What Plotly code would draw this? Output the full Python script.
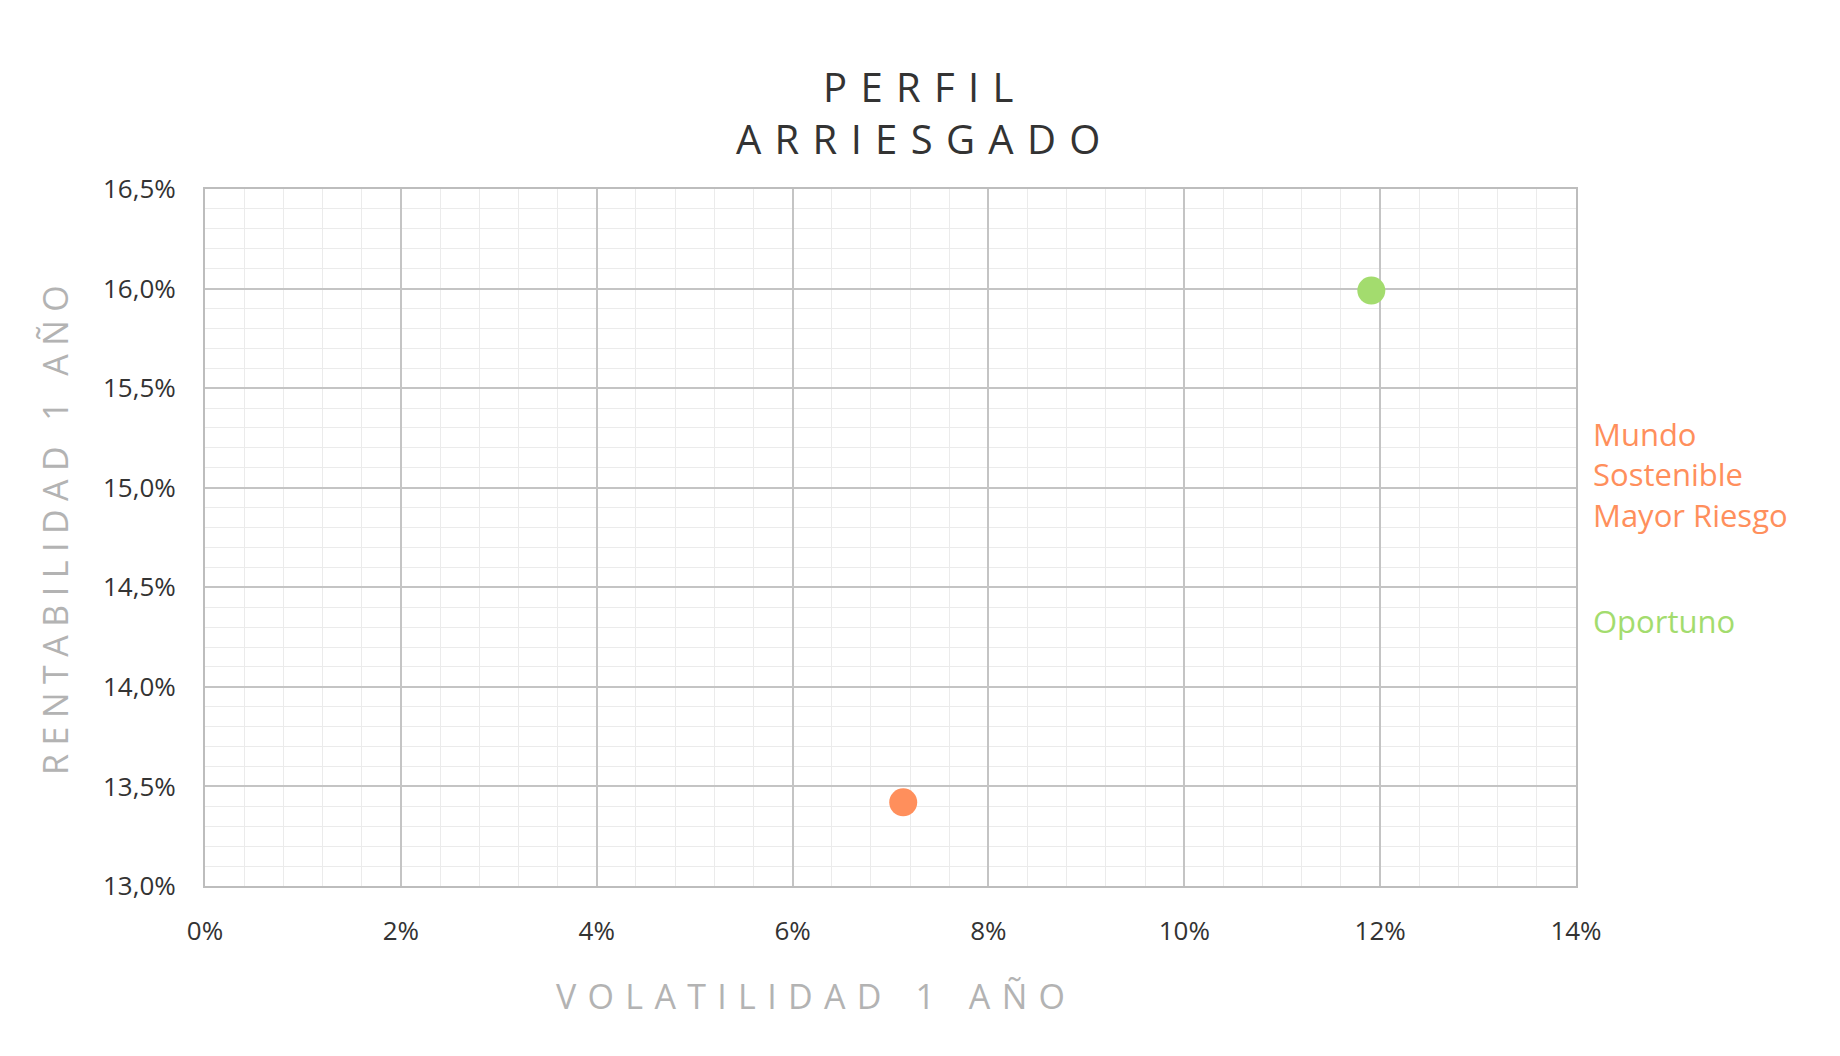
import plotly.graph_objects as go

series_names = ["Mundo Sostenible Mayor Riesgo", "Oportuno"]
series_labels = ["Mundo<br>Sostenible<br>Mayor Riesgo", "Oportuno"]
volatilidad = [7.13, 11.91]
rentabilidad = [13.42, 15.99]
colors = ["#FF8F5C", "#A3DC6E"]
x_ticks = [0, 2, 4, 6, 8, 10, 12, 14]
x_ticktext = ["0%", "2%", "4%", "6%", "8%", "10%", "12%", "14%"]
y_ticks = [13.0, 13.5, 14.0, 14.5, 15.0, 15.5, 16.0, 16.5]
y_ticktext = ["13,0%", "13,5%", "14,0%", "14,5%", "15,0%", "15,5%", "16,0%", "16,5%"]

FONT = "Open Sans"
W, H = 1840, 1056
L, R, T, B = 205, 264, 189, 170
pw, ph = W - L - R, H - T - B


def spaced(s, sp="\u2005", nword=3):
    word = sp * nword
    return word.join(sp.join(list(w)) for w in s.split(" "))


def px_x(x):
    return (x - L) / pw


def px_y(y):
    return (H - B - y) / ph


fig = go.Figure()
for name, x, y, c in zip(series_names, volatilidad, rentabilidad, colors):
    fig.add_trace(go.Scatter(x=[x], y=[y], mode="markers", name=name,
                             marker=dict(size=28, color=c, line=dict(width=0)),
                             showlegend=False))

fig.update_layout(
    width=W, height=H,
    margin=dict(l=L, r=R, t=T, b=B),
    paper_bgcolor="white", plot_bgcolor="white",
    font=dict(family=FONT, color="#333333"),
    xaxis=dict(range=[0, 14], tickvals=x_ticks, ticktext=x_ticktext,
               showgrid=True, gridcolor="#C4C4C4", gridwidth=1.5,
               minor=dict(dtick=0.4, showgrid=True, gridcolor="#EBEBEB", gridwidth=1),
               showline=True, linecolor="#BDBDBD", linewidth=2, mirror=True,
               zeroline=False, ticks="", ticklabelstandoff=21,
               tickfont=dict(size=26, color="#333333", family=FONT)),
    yaxis=dict(range=[13.0, 16.5], tickvals=y_ticks, ticktext=y_ticktext,
               showgrid=True, gridcolor="#C4C4C4", gridwidth=1.5,
               minor=dict(dtick=0.1, showgrid=True, gridcolor="#EBEBEB", gridwidth=1),
               showline=True, linecolor="#BDBDBD", linewidth=2, mirror=True,
               zeroline=False, ticks="", ticklabelstandoff=22,
               tickfont=dict(size=26, color="#333333", family=FONT)),
)

annotations = [
    dict(text=spaced("PERFIL", sp="\u2004") + "<br>" + spaced("ARRIESGADO", sp="\u2004"),
         x=px_x(918), y=px_y(113),
         xref="paper", yref="paper", showarrow=False, xanchor="center", yanchor="middle",
         align="center",
         font=dict(size=40, color="#333333", family=FONT)),
    dict(text=spaced("VOLATILIDAD 1 AÑO", sp="\u2004", nword=3), x=px_x(810), y=px_y(996),
         xref="paper", yref="paper", showarrow=False, xanchor="center", yanchor="middle",
         font=dict(size=34, color="#B3B3B3", family=FONT)),
    dict(text=spaced("RENTABILIDAD 1 AÑO", sp="\u2005", nword=3), x=px_x(55), y=px_y(530),
         textangle=-90,
         xref="paper", yref="paper", showarrow=False, xanchor="center", yanchor="middle",
         font=dict(size=34, color="#B3B3B3", family=FONT)),
]

label_y = [475, 621]
for lab, c, yy in zip(series_labels, colors, label_y):
    annotations.append(dict(text=lab, x=px_x(1591), y=px_y(yy),
                            xref="paper", yref="paper", showarrow=False,
                            xanchor="left", yanchor="middle", align="left",
                            font=dict(size=31, color=c, family=FONT)))
fig.update_layout(annotations=annotations)

fig.write_html("out.html")
